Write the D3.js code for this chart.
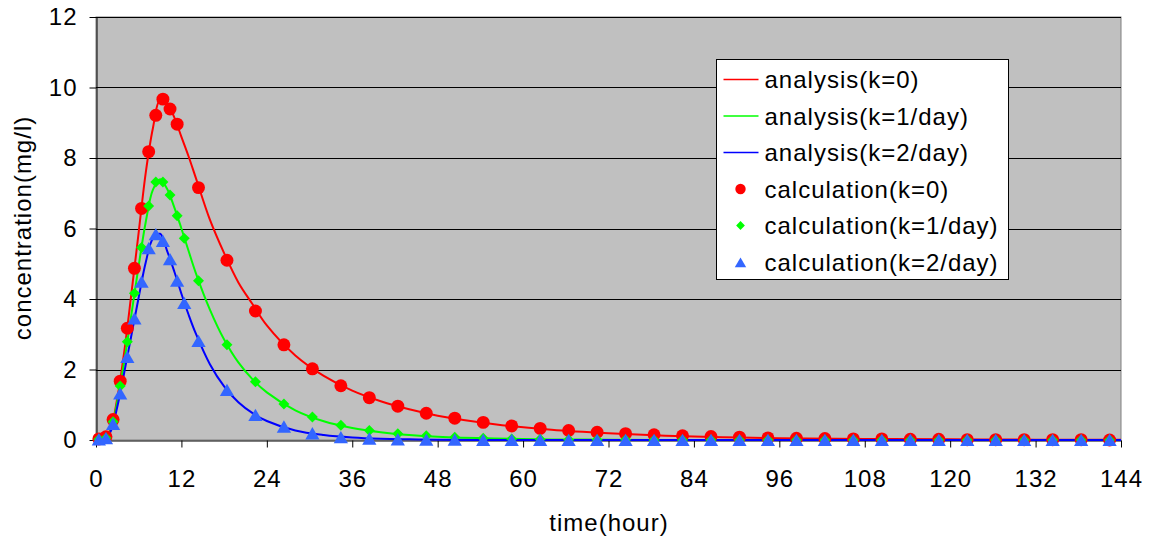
<!DOCTYPE html>
<html>
<head>
<meta charset="utf-8">
<script src="https://cdn.jsdelivr.net/npm/d3@7"></script>
<style>
  body { margin: 0; background: #ffffff; }
  svg text { font-family: "Liberation Sans", Arial, sans-serif; font-size: 24px; letter-spacing: 1px; fill: #000; }
</style>
</head>
<body>
<div id="chart-area"></div>
<script>

// analysis curves, hours vs concentration (mg/l)
const analysisTime = [0, 1, 2, 3, 4, 5, 6, 7, 8, 9, 10, 11, 12, 13, 14, 16, 18, 20, 22, 24,
    28, 32, 36, 40, 44, 48, 56, 64, 72, 80, 88, 96, 108, 120, 132, 144];
const analysisK0 = [0, 0.03, 0.28, 1.2, 2.55, 4.2, 5.9, 7.6, 8.85, 9.65, 9.55, 9.15, 8.6, 8.05, 7.45, 6.25, 5.3, 4.47, 3.85, 3.25,
    2.4, 1.82, 1.4, 1.1, 0.87, 0.69, 0.45, 0.29, 0.19, 0.12, 0.08, 0.05, 0.03, 0.02, 0.01, 0.01];
const analysisK1 = [0, 0.03, 0.25, 1.1, 2.27, 3.6, 4.95, 6.2, 7.1, 7.4, 7.12, 6.6, 6.0, 5.37, 4.75, 3.7, 2.85, 2.2, 1.72, 1.35,
    0.84, 0.53, 0.34, 0.22, 0.14, 0.09, 0.04, 0.015, 0.01, 0, 0, 0, 0, 0, 0, 0];
const analysisK2 = [0, 0.03, 0.22, 0.95, 1.95, 3.0, 4.05, 5.05, 5.72, 5.85, 5.36, 4.78, 4.15, 3.56, 3.03, 2.15, 1.52, 1.07, 0.76, 0.54,
    0.27, 0.14, 0.07, 0.035, 0.02, 0.01, 0, 0, 0, 0, 0, 0, 0, 0, 0, 0];

// calculation points (k=0 has no point at 12.4h)
const calcTimeK0 = [0.4, 1.4, 2.4, 3.4, 4.4, 5.4, 6.4, 7.4, 8.4, 9.4, 10.4, 11.4,
    14.4, 18.4, 22.4, 26.4, 30.4, 34.4, 38.4, 42.4, 46.4, 50.4, 54.4, 58.4, 62.4, 66.4, 70.4, 74.4, 78.4,
    82.4, 86.4, 90.4, 94.4, 98.4, 102.4, 106.4, 110.4, 114.4, 118.4, 122.4, 126.4, 130.4, 134.4, 138.4, 142.4];
const calcTimeK12 = [0.4, 1.4, 2.4, 3.4, 4.4, 5.4, 6.4, 7.4, 8.4, 9.4, 10.4, 11.4, 12.4,
    14.4, 18.4, 22.4, 26.4, 30.4, 34.4, 38.4, 42.4, 46.4, 50.4, 54.4, 58.4, 62.4, 66.4, 70.4, 74.4, 78.4,
    82.4, 86.4, 90.4, 94.4, 98.4, 102.4, 106.4, 110.4, 114.4, 118.4, 122.4, 126.4, 130.4, 134.4, 138.4, 142.4];
const calcK0 = [0.03, 0.09, 0.58, 1.67, 3.17, 4.87, 6.57, 8.18, 9.21, 9.67, 9.39, 8.96,
    7.16, 5.10, 3.66, 2.70, 2.02, 1.54, 1.20, 0.96, 0.76, 0.62, 0.50, 0.40, 0.33, 0.27, 0.22, 0.18, 0.15,
    0.12, 0.10, 0.08, 0.06, 0.05, 0.04, 0.03, 0.03, 0.02, 0.02, 0.01, 0.01, 0.01, 0.01, 0.01, 0];
const calcK1 = [0.02, 0.06, 0.52, 1.53, 2.79, 4.16, 5.46, 6.64, 7.32, 7.32, 6.95, 6.36, 5.72,
    4.52, 2.70, 1.65, 1.02, 0.65, 0.42, 0.27, 0.18, 0.12, 0.08, 0.05, 0.03, 0.02, 0.01, 0.01, 0.01, 0,
    0, 0, 0, 0, 0, 0, 0, 0, 0, 0, 0, 0, 0, 0, 0, 0];
const calcK2 = [0.02, 0.05, 0.46, 1.32, 2.36, 3.45, 4.49, 5.44, 5.84, 5.65, 5.13, 4.52, 3.89,
    2.81, 1.42, 0.71, 0.38, 0.19, 0.08, 0.04, 0.02, 0.01, 0.01, 0, 0, 0, 0, 0, 0, 0,
    0, 0, 0, 0, 0, 0, 0, 0, 0, 0, 0, 0, 0, 0, 0, 0];

const xTicks = [0, 12, 24, 36, 48, 60, 72, 84, 96, 108, 120, 132, 144];
const yTicks = [0, 2, 4, 6, 8, 10, 12];

const legendLabels = ["analysis(k=0)", "analysis(k=1/day)", "analysis(k=2/day)",
    "calculation(k=0)", "calculation(k=1/day)", "calculation(k=2/day)"];


function drawChart() {
    const width = 1149;
    const height = 540;

    const svg = d3.select("#chart-area")
        .append("svg")
        .attr("width", width)
        .attr("height", height);

    const x = d3.scaleLinear().domain([0, 144]).range([96, 1121]);
    const y = d3.scaleLinear().domain([0, 12]).range([440, 17]);

    // plot area
    svg.append("rect")
        .attr("x", x(0))
        .attr("y", y(12))
        .attr("width", x(144) - x(0))
        .attr("height", y(0) - y(12))
        .attr("fill", "#c0c0c0")
        .attr("stroke", "#808080")
        .attr("stroke-width", 1);

    // horizontal gridlines
    svg.append("g")
        .selectAll("line")
        .data(yTicks.filter(d => d > 0))
        .enter()
        .append("line")
        .attr("x1", x(0))
        .attr("x2", x(144))
        .attr("y1", d => Math.round(y(d)) + 0.5)
        .attr("y2", d => Math.round(y(d)) + 0.5)
        .attr("stroke", "#000")
        .attr("stroke-width", 1);

    // axes
    const xAxis = d3.axisBottom(x).tickValues(xTicks).tickSize(7).tickSizeOuter(0).tickPadding(22);
    const yAxis = d3.axisLeft(y).tickValues(yTicks).tickSize(7).tickSizeOuter(0).tickPadding(12);

    svg.append("g")
        .attr("transform", "translate(0,440.5)")
        .call(xAxis)
        .call(g => g.attr("font-size", null).attr("font-family", null));
    svg.append("g")
        .attr("transform", "translate(96.5,0)")
        .call(yAxis)
        .call(g => g.attr("font-size", null).attr("font-family", null));

    // analysis lines
    const series = [
        { values: analysisK0, color: "#ff0000" },
        { values: analysisK1, color: "#00ff00" },
        { values: analysisK2, color: "#0000ff" }
    ];
    const line = d3.line()
        .x((d, i) => x(analysisTime[i]))
        .y(d => y(d))
        .curve(d3.curveCatmullRom.alpha(0.5));

    svg.append("g")
        .selectAll("path")
        .data(series)
        .enter()
        .append("path")
        .attr("d", d => line(d.values))
        .attr("fill", "none")
        .attr("stroke", d => d.color)
        .attr("stroke-width", 2);

    // marker shapes
    const circle = d3.symbol(d3.symbolCircle, 132)();
    const diamond = d3.symbol(d3.symbolSquare, 60)();
    const triangle = d3.symbol(d3.symbolTriangle, 88)();

    const points = [
        { times: calcTimeK0, values: calcK0, color: "#ff0000", path: circle, rot: 0, dy: 0 },
        { times: calcTimeK12, values: calcK1, color: "#00ff00", path: diamond, rot: 45, dy: 0 },
        { times: calcTimeK12, values: calcK2, color: "#3366ff", path: triangle, rot: 0, dy: 2 }
    ];

    points.forEach(p => {
        svg.append("g")
            .selectAll("path")
            .data(p.values)
            .enter()
            .append("path")
            .attr("d", p.path)
            .attr("fill", p.color)
            .attr("transform", (d, i) => `translate(${x(p.times[i])},${y(d) + p.dy}) rotate(${p.rot})`);
    });

    // axis titles
    svg.append("text")
        .attr("x", 609)
        .attr("y", 522)
        .attr("text-anchor", "middle")
        .attr("dominant-baseline", "central")
        .text("time(hour)");

    svg.append("text")
        .attr("transform", "translate(22,228) rotate(-90)")
        .attr("text-anchor", "middle")
        .attr("dominant-baseline", "central")
        .text("concentration(mg/l)");

    // legend
    const legend = svg.append("g").attr("transform", "translate(716.5,59.5)");
    legend.append("rect")
        .attr("width", 292)
        .attr("height", 220)
        .attr("fill", "#fff")
        .attr("stroke", "#000")
        .attr("stroke-width", 1);

    const rowY = i => 20 + i * 36.5;
    const legendColors = ["#ff0000", "#00ff00", "#0000ff", "#ff0000", "#00ff00", "#3366ff"];

    legendLabels.forEach((label, i) => {
        if (i < 3) {
            legend.append("line")
                .attr("x1", 7).attr("x2", 42)
                .attr("y1", rowY(i)).attr("y2", rowY(i))
                .attr("stroke", legendColors[i])
                .attr("stroke-width", 1.5);
        } else {
            const p = points[i - 3];
            legend.append("path")
                .attr("d", p.path)
                .attr("fill", p.color)
                .attr("transform", `translate(24,${rowY(i) + p.dy}) rotate(${p.rot}) scale(0.8)`);
        }
        legend.append("text")
            .attr("x", 48)
            .attr("y", rowY(i))
            .attr("dominant-baseline", "central")
            .text(label);
    });
}

drawChart();

</script>
</body>
</html>
